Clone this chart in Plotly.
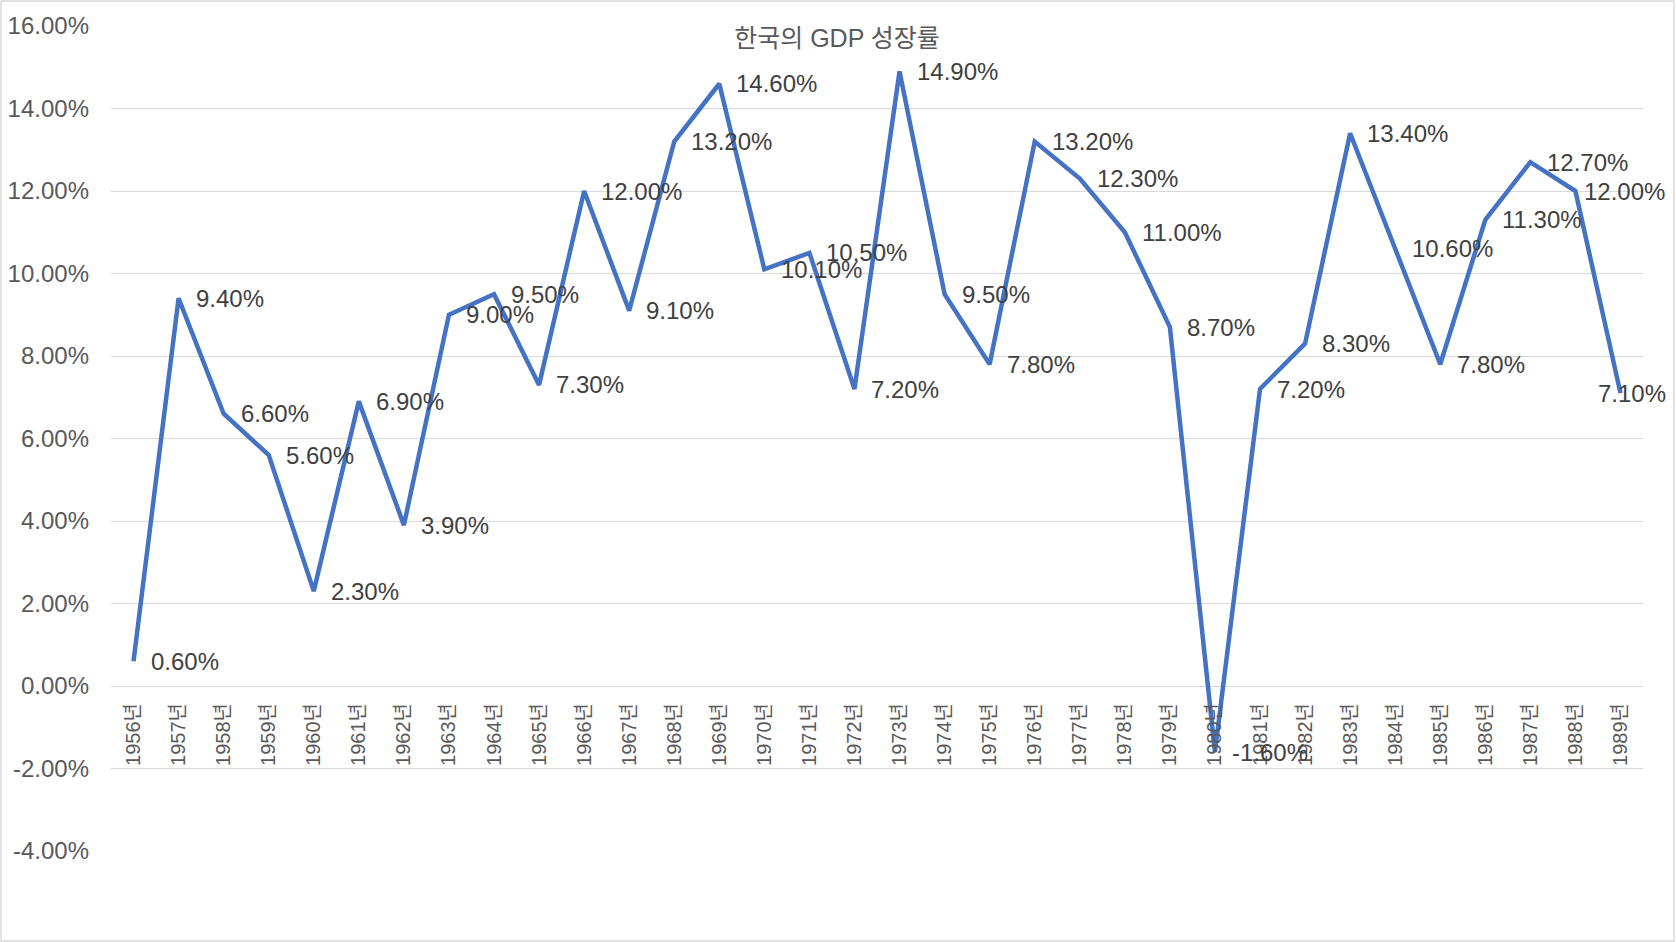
#######################################################################################################################
# Korean GDP growth rate 1956-1989 (line chart with data labels)
#######################################################################################################################

#######################################################################################################################
# Import libs
#######################################################################################################################
import plotly.graph_objects as go

#######################################################################################################################
# Data
#######################################################################################################################
years = [str(y) + "년" for y in range(1956, 1990)]
growth = [0.6, 9.4, 6.6, 5.6, 2.3, 6.9, 3.9, 9.0, 9.5, 7.3,
          12.0, 9.1, 13.2, 14.6, 10.1, 10.5, 7.2, 14.9, 9.5, 7.8,
          13.2, 12.3, 11.0, 8.7, -1.6, 7.2, 8.3, 13.4, 10.6, 7.8,
          11.3, 12.7, 12.0, 7.1]
yTicks = [-4, -2, 0, 2, 4, 6, 8, 10, 12, 14, 16]

#######################################################################################################################
# Settings
#######################################################################################################################
W, H = 1676, 942
mL, mR, mT, mB = 111, 33, 26, 91
font = "Liberation Sans, Noto Sans CJK KR, sans-serif"
txtAxis = "#595959"
txtLabel = "#404040"
gridCol = "#d9d9d9"
lineCol = "#4472C4"

# labels near the right border are pulled back inside the chart (as Excel does)
labelShift = {"1988년": 7, "1989년": -24}

#######################################################################################################################
# Plotting
#######################################################################################################################
fig = go.Figure()

fig.add_trace(go.Scatter(x=years, y=growth, mode='lines',
                         line=dict(color=lineCol, width=4.5),
                         showlegend=False, name='GDP 성장률'))

# ------------------------------------------
# Data labels
# ------------------------------------------
for yr, v in zip(years, growth):
    fig.add_annotation(x=yr, y=v, text="{:.2f}%".format(v), showarrow=False,
                       xanchor='left', yanchor='middle', xshift=labelShift.get(yr, 15),
                       font=dict(family=font, size=24, color=txtLabel))

# ==============================================================================
# Axis
# ==============================================================================
fig.update_xaxes(type='category', range=[-0.5, len(years) - 0.5], showgrid=False, showline=False,
                 zeroline=False, tickangle=-90, ticks='', ticklabelstandoff=12,
                 anchor='free', position=0.2, automargin=False,
                 tickfont=dict(family=font, size=20, color=txtAxis))
fig.update_yaxes(range=[-4, 16], tickvals=yTicks, ticktext=["{:.2f}%".format(v) for v in yTicks],
                 showgrid=True, gridcolor=gridCol, gridwidth=1.3, zeroline=False, showline=False,
                 ticks='', ticklabelstandoff=21, automargin=False,
                 tickfont=dict(family=font, size=24, color=txtAxis))

# ==============================================================================
# Frame
# ==============================================================================
pw, ph = W - mL - mR, H - mT - mB
fig.add_shape(type='rect', xref='paper', yref='paper',
              x0=(1 - mL) / pw, x1=(W - 2 - mL) / pw,
              y0=(H - mB - 941) / ph, y1=(H - mB - 1) / ph,
              line=dict(color=gridCol, width=1.5), fillcolor='rgba(0,0,0,0)', layer='below')

# ==============================================================================
# Layout
# ==============================================================================
fig.update_layout(width=W, height=H, margin=dict(l=mL, r=mR, t=mT, b=mB),
                  paper_bgcolor='white', plot_bgcolor='white',
                  title=dict(text="한국의 GDP 성장률", x=837 / W, xanchor='center',
                             y=1 - 38 / H, yanchor='middle',
                             font=dict(family=font, size=25, color=txtAxis)))

fig.write_html("out.html", config={'displayModeBar': False},
               post_script="document.body.style.margin='0';")
